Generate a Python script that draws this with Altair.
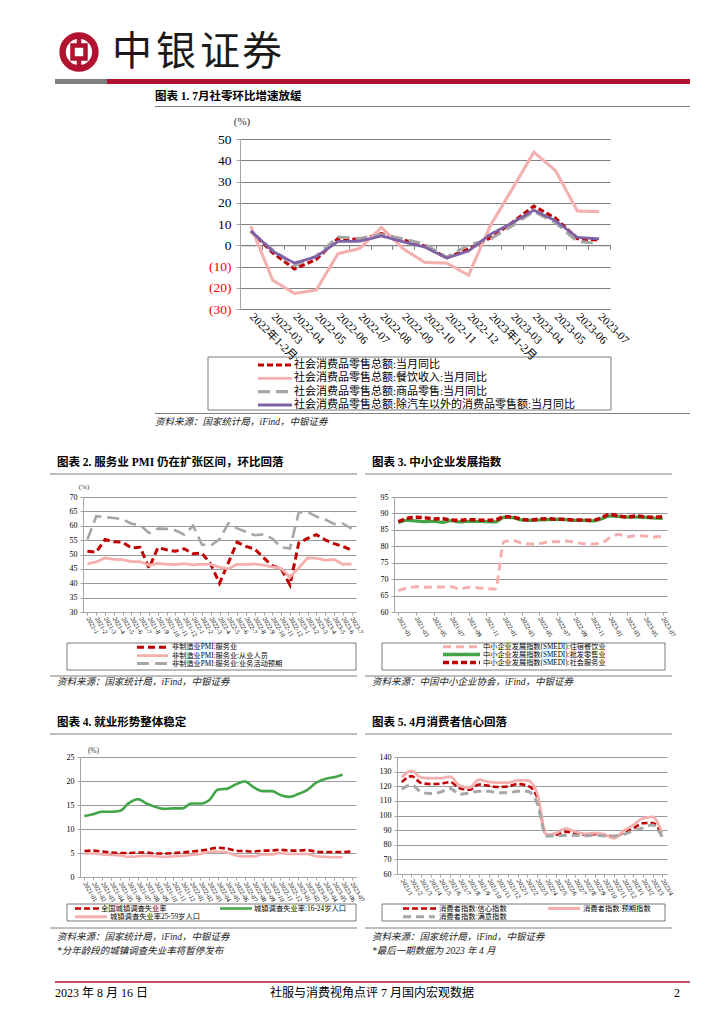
import altair as alt
import pandas as pd

SERIF = "Liberation Serif, Noto Sans CJK SC"
CJK = "Noto Sans CJK SC"
RED = "#C00000"
PINK = "#F4AFAF"
GREY = "#A6A6A6"
PURPLE = "#7F62A6"
GREEN = "#41A548"
GRID = "#808080"
AXIS = "#A6A6A6"
BRAND = "#B0122F"
LINE = "#7F7F7F"

# ---------------- chart 1 data ----------------
cats1 = ["2022年1-2月", "2022-03", "2022-04", "2022-05", "2022-06", "2022-07", "2022-08",
         "2022-09", "2022-10", "2022-11", "2022-12", "2023年1-2月", "2023-03", "2023-04",
         "2023-05", "2023-06", "2023-07"]
names1 = ["社会消费品零售总额:当月同比",
          "社会消费品零售总额:餐饮收入:当月同比",
          "社会消费品零售总额:商品零售:当月同比",
          "社会消费品零售总额:除汽车以外的消费品零售额:当月同比"]
retail_total = [6.7, -3.5, -11.1, -6.7, 3.1, 2.7, 5.4, 2.5, -0.5, -5.9, -1.8, 3.5, 10.6, 18.4, 12.7, 3.1, 2.5]
catering = [8.9, -16.4, -22.7, -21.1, -4.0, -1.5, 8.4, -1.7, -8.1, -8.4, -14.1, 9.2, 26.3, 43.8, 35.1, 16.1, 15.8]
goods = [6.5, -2.1, -9.7, -5.0, 3.9, 3.2, 5.1, 3.0, 0.5, -5.6, 0.1, 2.9, 9.1, 15.9, 10.5, 1.7, 1.0]
ex_auto = [6.8, -2.8, -8.4, -5.4, 1.8, 1.9, 4.4, 1.6, -0.9, -6.0, -2.7, 5.1, 10.5, 16.5, 11.5, 3.7, 3.0]

# ---------------- chart 2 data ----------------
cats2 = ["2021-1", "2021-2", "2021-3", "2021-4", "2021-5", "2021-6", "2021-7", "2021-8", "2021-9",
         "2021-10", "2021-11", "2021-12", "2022-1", "2022-2", "2022-3", "2022-4", "2022-5", "2022-6",
         "2022-7", "2022-8", "2022-9", "2022-10", "2022-11", "2022-12", "2023-1", "2023-2", "2023-3",
         "2023-4", "2023-5", "2023-6", "2023-7"]
names2 = ["非制造业PMI:服务业", "非制造业PMI:服务业:从业人员", "非制造业PMI:服务业:业务活动预期"]
pmi_service = [51.1, 50.8, 55.2, 54.4, 54.3, 52.3, 52.5, 45.2, 52.4, 51.6, 51.1, 52.0, 50.3, 50.5, 46.7, 40.0,
               47.1, 54.3, 52.8, 51.9, 48.9, 46.1, 45.1, 39.4, 54.0, 55.6, 56.9, 55.1, 53.8, 52.8, 51.5]
pmi_employ = [46.8, 47.4, 48.8, 48.3, 48.2, 47.5, 47.5, 46.3, 46.9, 46.6, 46.5, 46.8, 46.4, 46.6, 46.6, 45.6,
              45.0, 46.6, 46.5, 46.7, 46.3, 45.7, 45.2, 42.1, 45.3, 48.8, 48.7, 48.0, 48.3, 46.6, 46.7]
pmi_expect = [55.2, 63.3, 63.0, 62.7, 62.3, 60.7, 60.2, 57.5, 59.0, 58.9, 58.4, 56.9, 60.0, 53.5, 53.1, 55.3,
              60.8, 59.1, 57.9, 56.7, 57.0, 55.5, 52.5, 52.1, 64.6, 64.8, 63.2, 62.2, 60.6, 60.8, 59.0]

# ---------------- chart 3 data ----------------
cats3 = ["2021-01", "2021-02", "2021-03", "2021-04", "2021-05", "2021-06", "2021-07", "2021-08",
         "2021-09", "2021-10", "2021-11", "2021-12", "2022-01", "2022-02", "2022-03", "2022-04",
         "2022-05", "2022-06", "2022-07", "2022-08", "2022-09", "2022-10", "2022-11", "2022-12",
         "2023-01", "2023-02", "2023-03", "2023-04", "2023-05", "2023-06", "2023-07"]
ticks3 = ["2021-01", "2021-03", "2021-05", "2021-07", "2021-09", "2021-11", "2022-01", "2022-03",
          "2022-05", "2022-07", "2022-09", "2022-11", "2023-01", "2023-03", "2023-05", "2023-07"]
names3 = ["中小企业发展指数(SMEDI):住宿餐饮业", "中小企业发展指数(SMEDI):批发零售业",
          "中小企业发展指数(SMEDI):社会服务业"]
smedi_hotel = [66.5, 67.3, 67.7, 67.5, 67.6, 67.6, 67.7, 67.0, 67.5, 67.4, 67.1, 67.0, 81.4, 81.8, 81.0, 80.7,
               80.8, 81.3, 81.4, 81.6, 81.2, 80.8, 80.7, 80.9, 82.6, 83.6, 82.9, 83.2, 83.1, 82.8, 83.0]
smedi_retail = [87.2, 87.9, 87.7, 87.5, 87.6, 87.3, 87.8, 87.4, 87.6, 87.6, 87.5, 87.4, 88.8, 88.7, 88.0, 87.9,
                88.0, 88.1, 88.2, 88.1, 87.9, 87.9, 87.7, 88.3, 89.2, 89.1, 88.9, 88.9, 88.8, 88.6, 88.5]
smedi_social = [87.5, 88.5, 88.8, 88.7, 88.3, 88.4, 88.0, 87.9, 88.1, 88.0, 87.9, 88.0, 89.0, 88.9, 88.2, 88.0,
                88.3, 88.4, 88.2, 88.2, 88.0, 88.0, 87.9, 88.6, 89.7, 89.2, 88.9, 89.2, 89.0, 88.8, 89.0]

# ---------------- chart 4 data ----------------
cats4 = cats3
names4 = ["全国城镇调查失业率", "城镇调查失业率:16-24岁人口", "城镇调查失业率25-59岁人口"]
unemp_national = [5.4, 5.5, 5.3, 5.1, 5.0, 5.0, 5.1, 5.1, 4.9, 4.9, 5.0, 5.1, 5.3, 5.5, 5.8, 6.1,
                  5.9, 5.5, 5.4, 5.3, 5.5, 5.5, 5.7, 5.5, 5.5, 5.6, 5.3, 5.2, 5.2, 5.2, 5.3]
unemp_youth = [12.7, 13.1, 13.6, 13.6, 13.8, 15.4, 16.2, 15.3, 14.6, 14.2, 14.3, 14.3, 15.3, 15.3, 16.0, 18.2,
               18.4, 19.3, 19.9, 18.7, 17.9, 17.9, 17.1, 16.7, 17.3, 18.1, 19.6, 20.4, 20.8, 21.3, None]
unemp_prime = [4.9, 4.9, 4.7, 4.6, 4.5, 4.2, 4.3, 4.4, 4.3, 4.2, 4.3, 4.4, 4.6, 4.8, 5.2, 5.3,
               5.1, 4.5, 4.3, 4.3, 4.7, 4.7, 5.0, 4.8, 4.8, 4.8, 4.3, 4.2, 4.1, 4.1, None]

# ---------------- chart 5 data ----------------
cats5 = ["2021/1", "2021/2", "2021/3", "2021/4", "2021/5", "2021/6", "2021/7", "2021/8", "2021/9",
         "2021/10", "2021/11", "2021/12", "2022/1", "2022/2", "2022/3", "2022/4", "2022/5", "2022/6",
         "2022/7", "2022/8", "2022/9", "2022/10", "2022/11", "2022/12", "2023/1", "2023/2", "2023/3",
         "2023/4"]
names5 = ["消费者指数:信心指数", "消费者指数:预期指数", "消费者指数:满意指数"]
cc_confidence = [122.8, 126.9, 122.2, 121.5, 121.8, 122.8, 118.7, 117.6, 121.2, 120.3, 119.5, 119.8, 121.5, 120.5,
                 113.2, 86.7, 86.8, 88.9, 87.9, 87.0, 87.2, 86.8, 85.5, 88.3, 91.2, 94.7, 94.9, 87.1]
cc_expect = [126.0, 130.5, 126.0, 125.5, 125.5, 126.5, 120.5, 119.0, 124.5, 123.0, 122.5, 122.5, 124.0, 124.0,
             116.0, 86.8, 88.0, 91.0, 89.0, 87.5, 88.0, 87.0, 84.5, 89.5, 93.5, 98.0, 99.0, 88.0]
cc_satisfy = [118.0, 121.0, 116.0, 115.0, 116.0, 118.5, 114.5, 115.5, 116.5, 116.5, 115.5, 115.5, 116.5, 116.5,
              109.0, 86.0, 86.0, 86.5, 86.5, 86.0, 86.5, 86.0, 86.0, 87.0, 89.5, 91.5, 93.5, 85.5]

ONE = alt.Data(values=[{"k": 1}])
IND = dict(color="independent", strokeDash="independent", strokeWidth="independent")


def long_df(cats, names, series):
    rows = []
    for name, vals in zip(names, series):
        for c, v in zip(cats, vals):
            if v is not None:
                rows.append({"cat": c, "series": name, "value": v})
    return pd.DataFrame(rows)


# ---------- decoration helpers (page coordinates, converted to plot origin) ----------
def T(o, x, y, s, size, font=SERIF, weight="normal", style="normal", align="left", color="#000000"):
    return alt.Chart(ONE).mark_text(text=s, font=font, fontSize=size, fontWeight=weight, fontStyle=style,
                                    align=align, baseline="middle", color=color).encode(
        x=alt.value(x - o[0]), y=alt.value(y - o[1]))


def HR(o, x1, x2, y, color=LINE, w=1.0, dash=None):
    kw = dict(color=color, strokeWidth=w)
    if dash:
        kw["strokeDash"] = dash
    return alt.Chart(ONE).mark_rule(**kw).encode(
        x=alt.value(x1 - o[0]), x2=alt.value(x2 - o[0]), y=alt.value(y - o[1]))


def VR(o, x, y1, y2, color, w):
    return alt.Chart(ONE).mark_rule(color=color, strokeWidth=w).encode(
        x=alt.value(x - o[0]), y=alt.value(y1 - o[1]), y2=alt.value(y2 - o[1]))


def RECT(o, x1, y1, x2, y2, fill="white", stroke=None, sw=0.8, fill_opacity=1.0):
    kw = dict(fill=fill, fillOpacity=fill_opacity)
    if stroke:
        kw["stroke"] = stroke
        kw["strokeWidth"] = sw
    return alt.Chart(ONE).mark_rect(**kw).encode(
        x=alt.value(x1 - o[0]), x2=alt.value(x2 - o[0]), y=alt.value(y1 - o[1]), y2=alt.value(y2 - o[1]))


def SYM(o, x, y, shape, size, color, w):
    return alt.Chart(ONE).mark_point(shape=shape, size=size, filled=False, color=color, strokeWidth=w,
                                     opacity=1).encode(x=alt.value(x - o[0]), y=alt.value(y - o[1]))


def spacer(w):
    return alt.Chart(ONE).mark_point(opacity=0, size=1).encode(
        x=alt.value(0), y=alt.value(0)).properties(width=w, height=1)


def LEG(o, names, colors, dashes, widths, pos, fs):
    """Legend entries: pos = list of (symbol_x1, symbol_x2, y, label_x) in page coordinates."""
    out = []
    for name, c, d, w, (sx1, sx2, y, lx) in zip(names, colors, dashes, widths, pos):
        out.append(HR(o, sx1, sx2, y, color=c, w=w, dash=d))
        out.append(T(o, lx, y, name, fs))
    return out


def lines(cats, names, series, colors, dashes, widths, ydom, yaxis, xaxis, interp="linear"):
    df = long_df(cats, names, series)
    return alt.Chart(df).mark_line(interpolate=interp).encode(
        x=alt.X("cat:N", sort=cats, scale=alt.Scale(type="point", padding=0.5), axis=xaxis),
        y=alt.Y("value:Q", scale=alt.Scale(domain=ydom, nice=False, zero=False), axis=yaxis),
        color=alt.Color("series:N", scale=alt.Scale(domain=names, range=colors), legend=None),
        strokeDash=alt.StrokeDash("series:N", scale=alt.Scale(domain=names, range=dashes), legend=None),
        strokeWidth=alt.StrokeWidth("series:N", scale=alt.Scale(domain=names, range=widths), legend=None),
    )


def yaxis_small(values, fs=8):
    return alt.Axis(values=values, grid=True, gridColor=GRID, gridWidth=0.8, domain=True, domainColor=AXIS,
                    ticks=True, tickSize=3, tickColor=AXIS, labelFont=SERIF, labelFontSize=fs,
                    labelColor="#000000", labelPadding=3, title=None)


def xaxis_small(values=None, fs=6.5, angle=60):
    kw = dict(labelAngle=angle, labelAlign="left", labelBaseline="middle", labelFont=SERIF, labelFontSize=fs,
              labelColor="#000000", labelPadding=2, domain=True, domainColor=AXIS, ticks=True, tickSize=3,
              tickColor=AXIS, grid=False, labelOverlap=False, title=None, labelLimit=200)
    if values:
        kw["values"] = values
    return alt.Axis(**kw)


SRC = "资料来源：国家统计局，iFind，中银证券"

# ================= chart 1 =================
o1 = (240, 139)
col1 = [RED, PINK, GREY, PURPLE]
dash1 = [[6, 3], [1, 0], [12, 6], [1, 0]]
wid1 = [3.2, 2.8, 3.2, 3.2]
y1_axis = alt.Axis(values=[-30, -20, -10, 0, 10, 20, 30, 40, 50], grid=True, gridColor=GRID, gridWidth=1,
                   domain=True, domainColor=AXIS, ticks=True, tickSize=4, tickColor=AXIS, labelFont=SERIF,
                   labelFontSize=13.5, labelPadding=5,
                   labelExpr="datum.value < 0 ? '(' + abs(datum.value) + ')' : datum.value",
                   labelColor=alt.condition("datum.value < 0", alt.value("#FF0000"), alt.value("#000000")),
                   title=None)
x1_axis = alt.Axis(labelAngle=45, labelAlign="left", labelBaseline="middle", labelFont=SERIF,
                   labelFontSize=11.5, labelColor="#000000", labelPadding=6, domain=False, ticks=False,
                   grid=False, labelOverlap=False, title=None, labelLimit=200)
lines1 = lines(cats1, names1, [retail_total, catering, goods, ex_auto], col1, dash1, wid1, [-30, 50],
               y1_axis, x1_axis)
zero1 = alt.Chart(long_df(cats1, names1[:1], [retail_total])).mark_point(opacity=0).encode(
    x=alt.X("cat:N", sort=cats1, scale=alt.Scale(type="band", paddingInner=0, paddingOuter=0),
            axis=alt.Axis(orient="bottom", offset=-63.75, labels=False, title=None, grid=False, domain=True,
                          domainColor=GRID, ticks=True, tickBand="extent", tickSize=4, tickColor=GRID)))

header = [
    RECT(o1, 8, 8, 9, 9),
    SYM(o1, 79, 52, "circle", 3.1416 * 18.5 * 18.5, BRAND, 6.5),
    SYM(o1, 79, 52, "square", 13 * 13, BRAND, 4.5),
    VR(o1, 79, 33.5, 45.5, BRAND, 4.5),
    VR(o1, 79, 58.5, 70.5, BRAND, 4.5),
    T(o1, 132, 53, "中", 40, font=CJK, align="center", color="#1A1A1A"),
    T(o1, 176, 53, "银", 40, font=CJK, align="center", color="#1A1A1A"),
    T(o1, 220, 53, "证", 40, font=CJK, align="center", color="#1A1A1A"),
    T(o1, 262, 53, "券", 40, font=CJK, align="center", color="#1A1A1A"),
    RECT(o1, 55, 79, 107, 84, fill="#7F7F7F"),
    RECT(o1, 107, 79, 690, 84, fill=BRAND),
    RECT(o1, 8, 439, 9, 440),
]
deco1 = [
    T(o1, 155, 97, "图表 1. 7月社零环比增速放缓", 11.5, weight="bold"),
    HR(o1, 155, 690, 106.5),
    T(o1, 242, 122, "(%)", 11, align="center", color="#333333"),
    RECT(o1, 208, 357, 611, 410, fill="white", fill_opacity=0, stroke="#595959", sw=0.8),
    HR(o1, 155, 690, 413.5),
    T(o1, 155, 422, SRC, 9.5, style="italic", color="#222222"),
] + LEG(o1, names1, col1, dash1, wid1,
        [(258, 292, 365, 294), (258, 292, 378.3, 294), (258, 292, 391.7, 294), (258, 292, 405, 294)], 11)
chart1 = alt.layer(*header, lines1, zero1, *deco1).resolve_scale(x="independent").properties(
    width=370, height=170)

# ================= chart 2 =================
o2 = (83, 497)
col2 = [RED, PINK, GREY]
dash2 = [[7, 4], [1, 0], [12, 6]]
wid2 = [3.0, 2.6, 3.0]
lines2 = lines(cats2, names2, [pmi_service, pmi_employ, pmi_expect], col2, dash2, wid2, [30, 70],
               yaxis_small(list(range(30, 71, 5))), xaxis_small())
deco2 = [
    RECT(o2, 8, 440, 9, 441),
    RECT(o2, 8, 699, 9, 700),
    T(o2, 57, 463, "图表 2. 服务业 PMI 仍在扩张区间，环比回落", 11.5, weight="bold"),
    HR(o2, 50, 357, 474),
    T(o2, 84, 487, "(%)", 7, align="center", color="#333333"),
    RECT(o2, 67, 643, 356, 670, fill="white", fill_opacity=0, stroke="#595959", sw=0.8),
    HR(o2, 50, 357, 676),
    T(o2, 57, 682, SRC, 9.5, style="italic", color="#222222"),
] + LEG(o2, names2, col2, dash2, wid2,
        [(137, 168, 647.3, 172), (137, 168, 655.6, 172), (137, 168, 663.6, 172)], 7.2)
chart2 = alt.layer(lines2, *deco2).properties(width=273, height=115)

# ================= chart 3 =================
o3 = (394, 497)
col3 = [PINK, GREEN, RED]
dash3 = [[8, 5], [1, 0], [6, 3]]
wid3 = [3.0, 3.5, 3.5]
lines3 = lines(cats3, names3, [smedi_hotel, smedi_retail, smedi_social], col3, dash3, wid3, [60, 95],
               yaxis_small(list(range(60, 96, 5))), xaxis_small(values=ticks3), interp="monotone")
deco3 = [
    T(o3, 372, 463, "图表 3. 中小企业发展指数", 11.5, weight="bold"),
    HR(o3, 365, 672, 474),
    RECT(o3, 382, 643, 665, 670, fill="white", fill_opacity=0, stroke="#595959", sw=0.8),
    HR(o3, 365, 672, 676),
    T(o3, 372, 682, "资料来源：中国中小企业协会，iFind，中银证券", 9.5, style="italic", color="#222222"),
] + LEG(o3, names3, col3, dash3, wid3,
        [(443, 480, 646.8, 483), (443, 480, 654.6, 483), (443, 480, 662.6, 483)], 7.2)
chart3 = alt.layer(lines3, *deco3).properties(width=273, height=115)

# ================= chart 4 =================
o4 = (80, 757)
col4 = [RED, GREEN, PINK]
dash4 = [[6, 3], [1, 0], [1, 0]]
wid4 = [2.6, 2.6, 3.0]
lines4 = lines(cats4, names4, [unemp_national, unemp_youth, unemp_prime], col4, dash4, wid4, [0, 25],
               yaxis_small([0, 5, 10, 15, 20, 25]), xaxis_small(), interp="monotone")
deco4 = [
    RECT(o4, 8, 700, 9, 701),
    RECT(o4, 8, 1015, 9, 1016),
    T(o4, 57, 723, "图表 4. 就业形势整体稳定", 11.5, weight="bold"),
    HR(o4, 50, 357, 734),
    T(o4, 93.5, 750.7, "(%)", 7.5, align="center", color="#333333"),
    RECT(o4, 67, 904, 356, 921, fill="white", fill_opacity=0, stroke="#595959", sw=0.8),
    HR(o4, 50, 357, 928),
    T(o4, 57, 937, SRC, 9.5, style="italic", color="#222222"),
    T(o4, 57, 951, "*分年龄段的城镇调查失业率将暂停发布", 9.5, style="italic", color="#222222"),
    HR(o4, 55, 690, 982, color="#C65060", w=2),
    T(o4, 55, 993, "2023 年 8 月 16 日", 12),
    T(o4, 372, 993, "社服与消费视角点评 7 月国内宏观数据", 12, align="center"),
    T(o4, 680, 993, "2", 12, align="right"),
] + LEG(o4, names4, col4, dash4, wid4,
        [(75, 99, 908.5, 101), (220, 252, 908.5, 254), (75, 107, 916.8, 110)], 7.3)
chart4 = alt.layer(lines4, *deco4).properties(width=276, height=120)

# ================= chart 5 =================
o5 = (397, 757)
col5 = [RED, PINK, GREY]
dash5 = [[6, 3], [1, 0], [8, 5]]
wid5 = [2.6, 3.0, 3.0]
lines5 = lines(cats5, names5, [cc_confidence, cc_expect, cc_satisfy], col5, dash5, wid5, [60, 140],
               yaxis_small(list(range(60, 141, 10))), xaxis_small(), interp="monotone")
deco5 = [
    T(o5, 372, 723, "图表 5. 4月消费者信心回落", 11.5, weight="bold"),
    HR(o5, 365, 672, 734),
    RECT(o5, 382, 904, 665, 921, fill="white", fill_opacity=0, stroke="#595959", sw=0.8),
    HR(o5, 365, 672, 928),
    T(o5, 372, 937, SRC, 9.5, style="italic", color="#222222"),
    T(o5, 372, 951, "*最后一期数据为 2023 年 4 月", 9.5, style="italic", color="#222222"),
] + LEG(o5, names5, col5, dash5, wid5,
        [(403, 437, 908.5, 439), (548, 580, 908.5, 583), (403, 435, 916.8, 439)], 7.3)
chart5 = alt.layer(lines5, *deco5).properties(width=270, height=117)

# every row starts at page x = 80
row1 = alt.hconcat(spacer(160), chart1, spacing=0, bounds="flush").resolve_scale(**IND)
row2 = alt.hconcat(spacer(3), chart2, spacer(38), chart3, spacing=0, bounds="flush").resolve_scale(**IND)
row3 = alt.hconcat(chart4, spacer(41), chart5, spacing=0, bounds="flush").resolve_scale(**IND)

chart = alt.vconcat(row1, row2, row3, spacing=0, bounds="full").resolve_scale(**IND).properties(
    padding=0).configure_view(strokeWidth=0)

chart.save("out.html", embed_options={"renderer": "svg", "actions": False})
